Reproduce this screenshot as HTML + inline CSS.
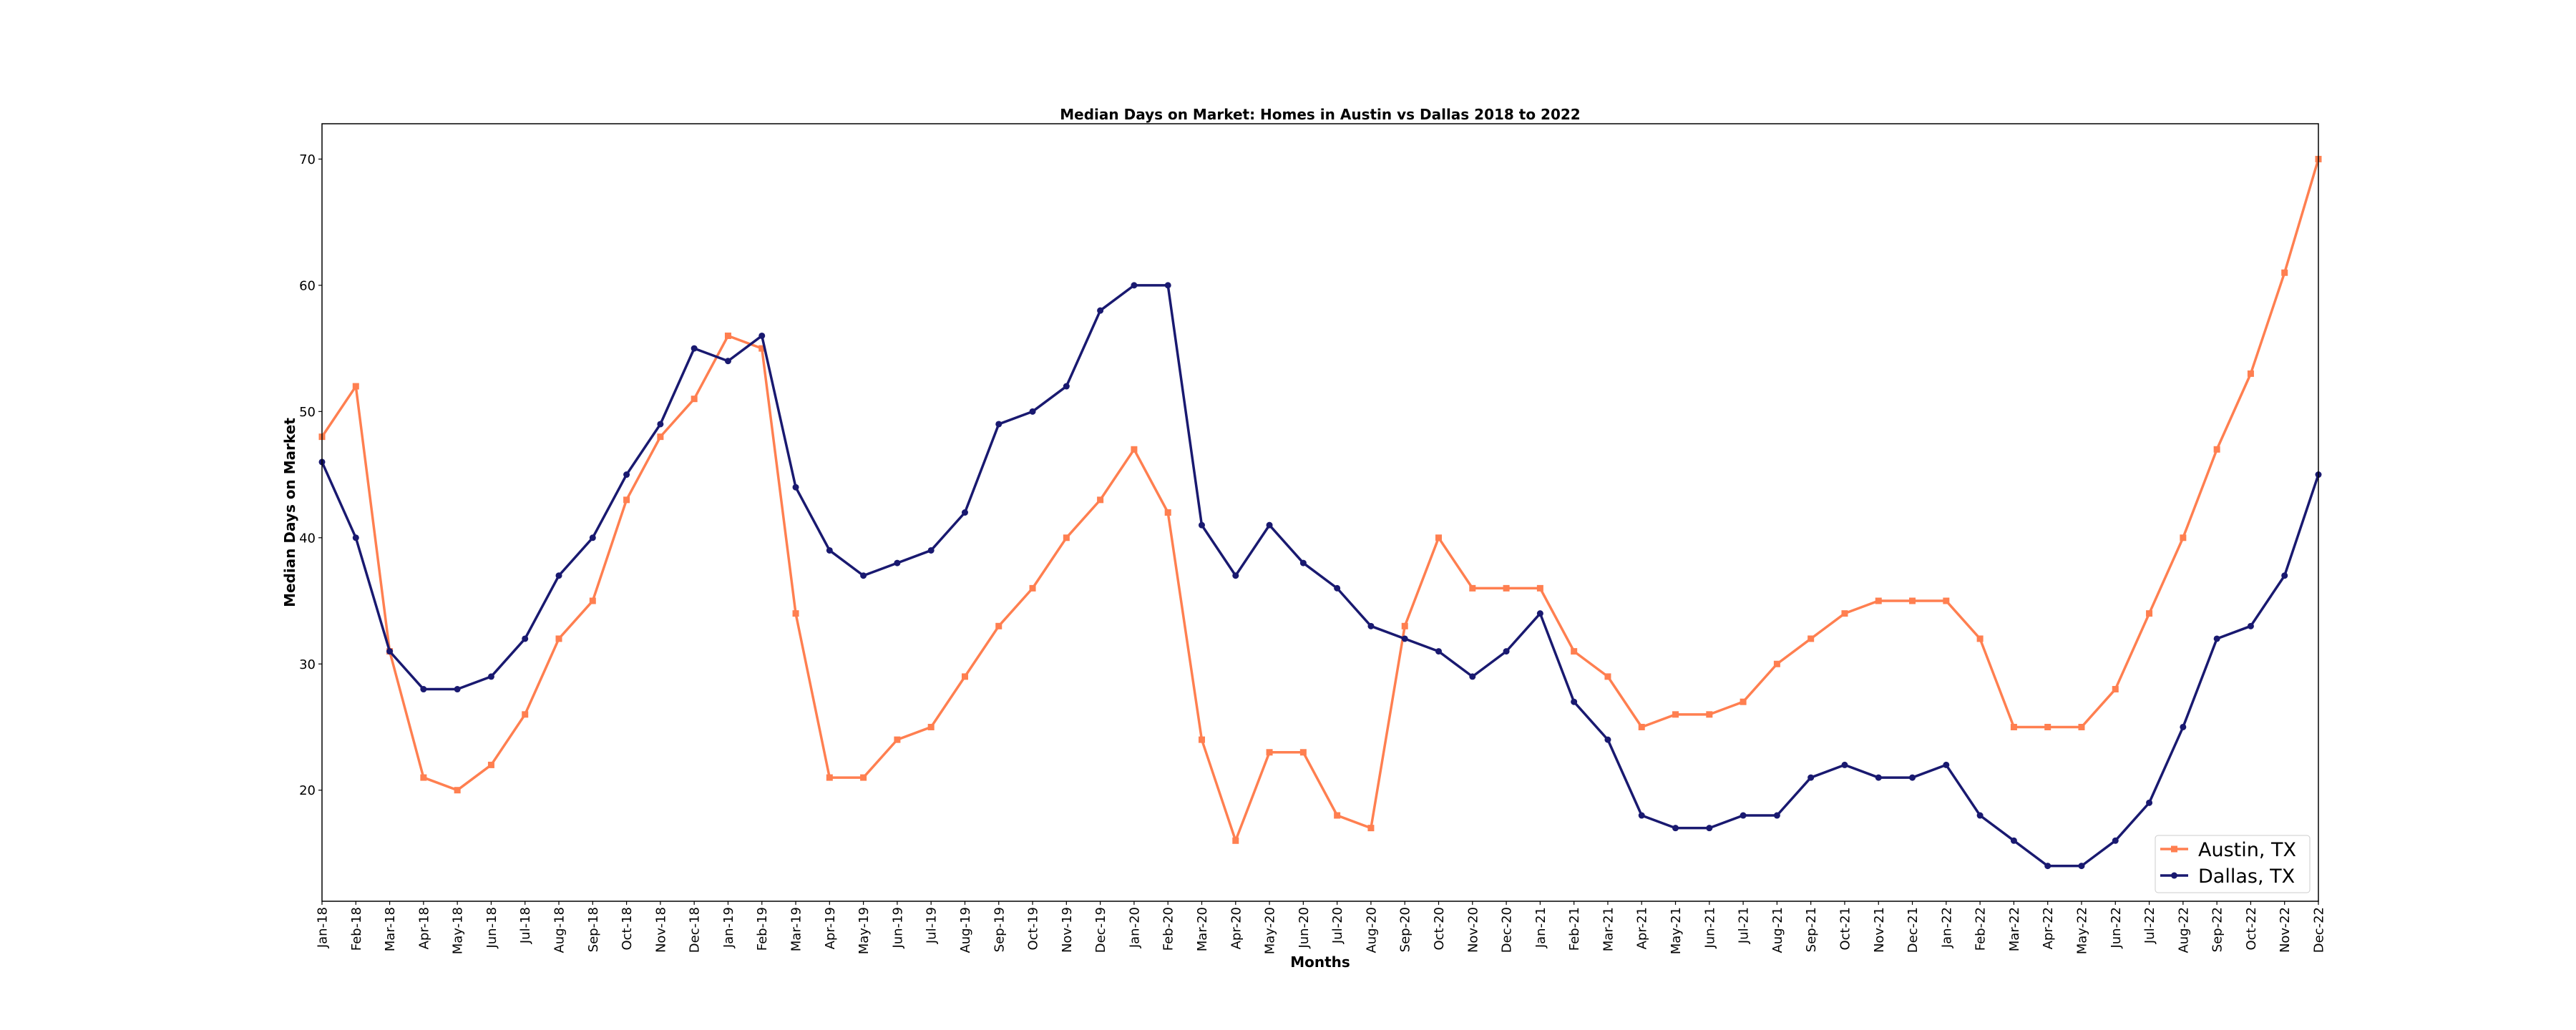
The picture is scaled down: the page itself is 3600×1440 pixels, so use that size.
<!DOCTYPE html>
<html><head><meta charset="utf-8"><style>
html,body{margin:0;padding:0;background:#fff;}
svg{display:block;font-family:"DejaVu Sans","Liberation Sans",sans-serif;}
</style></head><body>
<svg id="chart" width="3600" height="1440" xmlns="http://www.w3.org/2000/svg"></svg>
<script>
const categories = ["Jan-18","Feb-18","Mar-18","Apr-18","May-18","Jun-18","Jul-18","Aug-18","Sep-18","Oct-18","Nov-18","Dec-18",
"Jan-19","Feb-19","Mar-19","Apr-19","May-19","Jun-19","Jul-19","Aug-19","Sep-19","Oct-19","Nov-19","Dec-19",
"Jan-20","Feb-20","Mar-20","Apr-20","May-20","Jun-20","Jul-20","Aug-20","Sep-20","Oct-20","Nov-20","Dec-20",
"Jan-21","Feb-21","Mar-21","Apr-21","May-21","Jun-21","Jul-21","Aug-21","Sep-21","Oct-21","Nov-21","Dec-21",
"Jan-22","Feb-22","Mar-22","Apr-22","May-22","Jun-22","Jul-22","Aug-22","Sep-22","Oct-22","Nov-22","Dec-22"];
const austinValues = [48,52,31,21,20,22,26,32,35,43,48,51, 56,55,34,21,21,24,25,29,33,36,40,43, 47,42,24,16,23,23,18,17,33,40,36,36, 36,31,29,25,26,26,27,30,32,34,35,35, 35,32,25,25,25,28,34,40,47,53,61,70];
const dallasValues = [46,40,31,28,28,29,32,37,40,45,49,55, 54,56,44,39,37,38,39,42,49,50,52,58, 60,60,41,37,41,38,36,33,32,31,29,31, 34,27,24,18,17,17,18,18,21,22,21,21, 22,18,16,14,14,16,19,25,32,33,37,45];
const yTicks = [20,30,40,50,60,70];

const NS="http://www.w3.org/2000/svg";
const svg=document.getElementById('chart');
const L=450,R=3240,T=173,B=1260;
const allV=austinValues.concat(dallasValues);
const vmin=Math.min(...allV),vmax=Math.max(...allV),pad=(vmax-vmin)*0.05;
const y0=vmin-pad,y1=vmax+pad;
function xs(i){return L+(R-L)*i/(categories.length-1);}
function ys(v){return B-(B-T)*(v-y0)/(y1-y0);}
function mk(tag,attrs,parent){const e=document.createElementNS(NS,tag);for(const k in attrs)e.setAttribute(k,attrs[k]);(parent||svg).appendChild(e);return e;}

let t=mk('text',{x:(L+R)/2,y:167,'text-anchor':'middle','font-size':20,'font-weight':'bold'});
t.textContent='Median Days on Market: Homes in Austin vs Dallas 2018 to 2022';



yTicks.forEach(v=>{
  const y=ys(v);
  const ln=mk('line',{x1:L-5,x2:L,y1:y,y2:y,stroke:'#000','stroke-width':1.2});
  
  
  const tx=mk('text',{x:L-9,y:y+6.5,'text-anchor':'end','font-size':18});
  tx.textContent=v;
  
  
});
categories.forEach((c,i)=>{
  const x=xs(i);
  const ln=mk('line',{x1:x,x2:x,y1:B,y2:B+5,stroke:'#000','stroke-width':1.2});
  
  
  const tx=mk('text',{x:0,y:0,'text-anchor':'end','font-size':18,transform:`translate(${x+6.5},${B+8}) rotate(-90)`});
  tx.textContent=c;
  
  
});
let xl=mk('text',{x:(L+R)/2,y:1352,'text-anchor':'middle','font-size':20,'font-weight':'bold'});
xl.textContent='Months';


let yl=mk('text',{x:0,y:0,'text-anchor':'middle','font-size':20,'font-weight':'bold',transform:`translate(412,${(T+B)/2}) rotate(-90)`});
yl.textContent='Median Days on Market';



function series(vals,color,marker,name){
  const g=mk('g',{});
  
  
  const pts=vals.map((v,i)=>xs(i)+','+ys(v)).join(' ');
  const pl=mk('polyline',{points:pts,fill:'none',stroke:color,'stroke-width':3.5,'stroke-linejoin':'round'},g);
  
  
  vals.forEach((v,i)=>{
    let m;
    if(marker==='s') m=mk('rect',{x:xs(i)-4.5,y:ys(v)-4.5,width:9,height:9,fill:color},g);
    else m=mk('circle',{cx:xs(i),cy:ys(v),r:4.5,fill:color},g);
    
    
  });
}
series(austinValues,'#FF7F50','s','austin-series');
series(dallasValues,'#191970','o','dallas-series');

let fr=mk('rect',{x:L,y:T,width:R-L,height:B-T,fill:'none',stroke:'#000','stroke-width':1.5});



const lg=mk('g',{});


mk('rect',{x:3012,y:1168,width:216,height:80,rx:4,fill:'#fff','fill-opacity':0.8,stroke:'#ccc','stroke-width':1},lg);
[['Austin, TX','#FF7F50','s',1187],['Dallas, TX','#191970','o',1224]].forEach(([lab,c,m,y])=>{
  const e=mk('g',{},lg);
  
  
  mk('line',{x1:3019,x2:3058,y1:y,y2:y,stroke:c,'stroke-width':3.5},e);
  if(m==='s') mk('rect',{x:3034,y:y-4.5,width:9,height:9,fill:c},e);
  else mk('circle',{cx:3038.5,cy:y,r:4.5,fill:c},e);
  const tx=mk('text',{x:3072,y:y+10,'font-size':27},e);
  tx.textContent=lab;
});
</script>
</body></html>
